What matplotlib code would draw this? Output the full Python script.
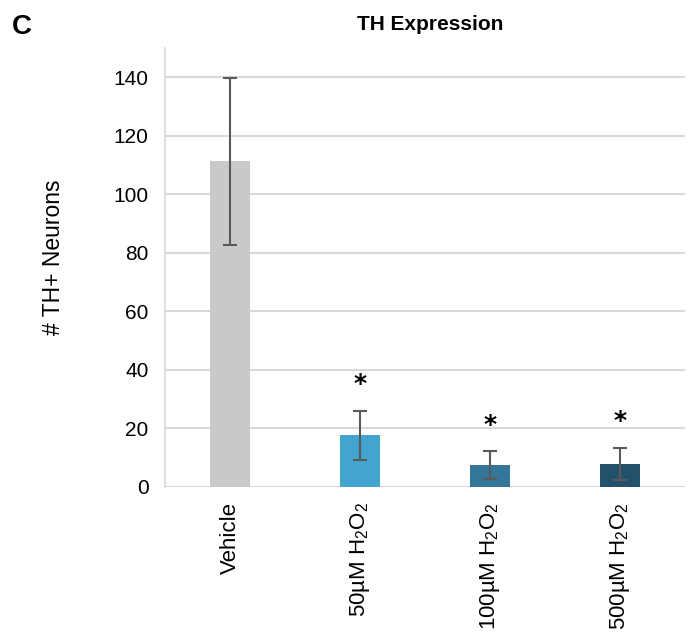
import numpy as np
import matplotlib
matplotlib.use("Agg")
import matplotlib.pyplot as plt

plt.rcParams['font.family'] = ['Liberation Sans', 'DejaVu Sans']
plt.rcParams['mathtext.fontset'] = 'custom'
plt.rcParams['mathtext.rm'] = 'Liberation Sans'
plt.rcParams['mathtext.it'] = 'Liberation Sans'

# data
groups = ["Vehicle", "50µM H$_2$O$_2$", "100µM H$_2$O$_2$", "500µM H$_2$O$_2$"]
means = [111.3, 17.7, 7.5, 7.8]
errors = [28.5, 8.4, 4.7, 5.5]
signif = ["", "*", "*", "*"]
colors = ["#c9c9c9", "#43a5cf", "#347599", "#23506a"]

fig = plt.figure(figsize=(6.91, 6.37), dpi=100)
ax = fig.add_axes([0.239, 0.2355, 0.7525, 0.689])

x = np.arange(len(groups))
ax.bar(x, means, width=0.31, color=colors, zorder=2)
ax.errorbar(x, means, yerr=errors, fmt='none', ecolor='#595959',
            elinewidth=1.5, capsize=5, capthick=1.5, zorder=3)

for xi, m, e, s in zip(x, means, errors, signif):
    if s:
        ax.text(xi, m + e + 5, s, ha='center', va='bottom', fontsize=18,
                fontweight='bold', family='DejaVu Sans')

ax.set_xlim(-0.5, 3.5)
ax.set_ylim(0, 150)
ax.set_yticks(range(0, 141, 20))
ax.set_xticks(x)
ax.set_xticklabels(groups, rotation=90, fontsize=16)
ax.tick_params(axis='y', labelsize=15, length=0, pad=12)
ax.tick_params(axis='x', length=0, pad=11)

ax.grid(axis='y', color='#d9d9d9', linewidth=1.5, zorder=0)
ax.set_axisbelow(True)
for side in ['top', 'right', 'bottom']:
    ax.spines[side].set_visible(False)
ax.spines['left'].set_color('#d9d9d9')
ax.spines['left'].set_linewidth(1.2)

# label sits a bit above centre, as in the original
ax.set_ylabel("# TH+ Neurons", fontsize=16.5)
ax.yaxis.set_label_coords(-0.192, 0.524)

fig.text(0.622, 0.962, "TH Expression", ha='center', va='center', fontsize=15,
         fontweight='bold')
fig.text(0.032, 0.958, "C", ha='center', va='center', fontsize=20,
         fontweight='bold')

fig.savefig("out.png", dpi=100)
